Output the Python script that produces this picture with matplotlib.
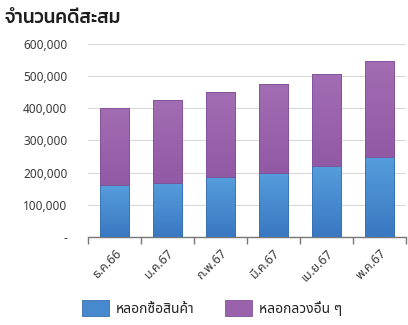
import numpy as np
import matplotlib
matplotlib.use("Agg")
import matplotlib.pyplot as plt
from matplotlib.ticker import FuncFormatter
from matplotlib.colors import LinearSegmentedColormap

plt.rcParams['font.family'] = ['Noto Sans Thai', 'DejaVu Sans']

months = ['ธ.ค.66', 'ม.ค.67', 'ก.พ.67', 'มี.ค.67', 'เม.ย.67', 'พ.ค.67']
shopping = [160000, 168000, 186000, 200000, 220000, 248000]
totals = [400000, 425000, 449000, 474000, 507000, 547000]
other = [t - s for t, s in zip(totals, shopping)]
labels = ['หลอกซื้อสินค้า', 'หลอกลวงอื่น ๆ']
yticks = [0, 100000, 200000, 300000, 400000, 500000, 600000]


def shade(ax, bars, top, bottom):
    # vertical gradient inside each bar
    cmap = LinearSegmentedColormap.from_list('g', [bottom, top])
    grad = np.linspace(0, 1, 64).reshape(-1, 1)
    for p in bars:
        x0, y0 = p.get_x(), p.get_y()
        im = ax.imshow(grad, cmap=cmap, origin='lower', aspect='auto',
                       extent=[x0, x0 + p.get_width(), y0, y0 + p.get_height()],
                       zorder=3)
        im.set_clip_path(p)
        p.set_facecolor('none')


fig = plt.figure(figsize=(4.08, 3.25), dpi=100)
ax = fig.add_axes([0.216, 0.271, 0.779, 0.594])

x = np.arange(len(months))
b1 = ax.bar(x, shopping, width=0.55, color='#4689cf', edgecolor='#3a70b0',
            linewidth=0.6, label=labels[0], zorder=4)
b2 = ax.bar(x, other, width=0.55, bottom=shopping, color='#9a62aa',
            edgecolor='#83509a', linewidth=0.6, label=labels[1], zorder=4)
shade(ax, b1, '#559ddc', '#3a78c2')
shade(ax, b2, '#a26db3', '#9259a4')

ax.set_xlim(-0.5, len(months) - 0.5)
ax.set_ylim(0, 600000)
ax.set_yticks(yticks)
ax.yaxis.set_major_formatter(FuncFormatter(lambda v, p: '-' if v == 0 else f'{int(v):,}'))
ax.tick_params(axis='y', length=0, pad=15, labelsize=8.5, labelcolor='#3a3a3a')
ax.grid(axis='y', color='#d9d9d9', linewidth=0.8, zorder=0)
ax.set_axisbelow(True)

ax.set_xticks(x)
ax.set_xticklabels(months, rotation=45, ha='right', rotation_mode='anchor',
                   fontsize=9, color='#3a3a3a')
ax.tick_params(axis='x', which='major', length=0, pad=7)
ax.set_xticks(np.arange(len(months) + 1) - 0.5, minor=True)
ax.tick_params(axis='x', which='minor', length=5, color='#777777', width=1)

for s in ['left', 'right', 'top']:
    ax.spines[s].set_visible(False)
ax.spines['bottom'].set_color('#777777')
ax.spines['bottom'].set_linewidth(1)

fig.text(0.012, 0.93, 'จำนวนคดีสะสม', fontsize=13.5, fontweight='medium',
         color='#1e1e1e', family=['Kanit', 'DejaVu Sans'])

fig.legend(handles=[b1, b2], labels=labels, loc='center',
           bbox_to_anchor=(0.52, 0.052), ncol=2, frameon=False, fontsize=10,
           handlelength=1.95, handleheight=1.45, columnspacing=2.2,
           handletextpad=0.5, labelcolor='#222222')
for h, c in zip(fig.legends[0].legend_handles, ['#4689cf', '#9a62aa']):
    h.set_facecolor(c)

fig.savefig('out.png', dpi=100)
